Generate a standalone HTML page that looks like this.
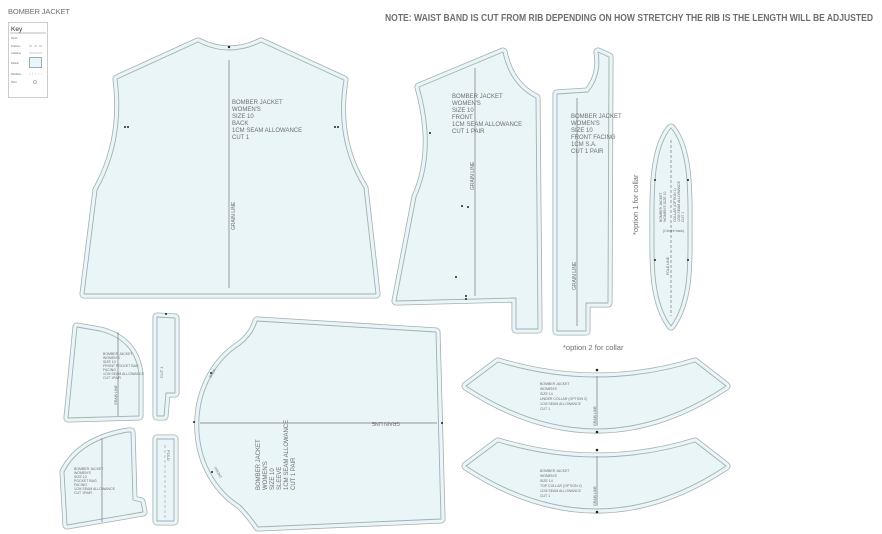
<!DOCTYPE html>
<html><head><meta charset="utf-8"><style>
html,body{margin:0;padding:0;background:#fff;}
svg{display:block;}
.t{font-family:"Liberation Sans",sans-serif;fill:#6f6f6f;}
</style></head><body>
<svg width="882" height="534" viewBox="0 0 882 534" xmlns="http://www.w3.org/2000/svg">
<defs>
<path id="back" d="M117,79 L198,42 Q229,58 261,42 L344,80 Q334,140 364,188 L376,294 L84,294 L97,190 Q125,140 117,79 Z"/>
<path id="front" d="M419,87 L503,52 Q510,85 536,98 L538,329 L516,329 L516,298 L396,301 L416,197 Q437,150 419,87 Z"/>
<path id="facing" d="M557,94 L588,92 Q602,75 598,52 L609,57 L608,303 L586,303 L586,331 L557,331 Z"/>
<path id="col1" d="M671,128 C690,150 688,200 688,228 C688,260 690,300 671,326 C652,300 654,260 654,228 C654,200 652,150 671,128Z"/>
<path id="col2" d="M466,386 L498,362 Q597,392 695,362 L726,386 Q597,472 466,386 Z"/>
<path id="col3" d="M466,466 L498,442 Q597,472 695,442 L726,466 Q597,552 466,466 Z"/>
<path id="pk1" d="M77,327 L100,331 Q135,340 139,374 L139,416 L68,418 Z"/>
<path id="st1" d="M157,317 L175,318 L175,393 L166,393 L164,416 L157,416 Z"/>
<path id="slv" d="M257,321 L436,332 L441,519 L258,527 Q250,515 240,505 C185,470 185,380 240,345 Q253,335 257,321Z"/>
<path id="pk2" d="M64,472 Q80,440 128,432 L131,432 L133,500 L141,502 L143,512 L67,525 Z"/>
<path id="st2" d="M157,439 L174,439 L174,521 L157,521 Z"/>
</defs>
<g stroke-linejoin="round">
<g fill="#e9f5f7" stroke="#a3b0b4" stroke-width="9">
<use href="#back"/><use href="#front"/><use href="#facing"/><use href="#col1"/><use href="#col2"/><use href="#col3"/><use href="#pk1"/><use href="#st1"/><use href="#slv"/><use href="#pk2"/><use href="#st2"/>
</g>
<g fill="none" stroke="#e9f5f7" stroke-width="7.4">
<use href="#back"/><use href="#front"/><use href="#facing"/><use href="#col1"/><use href="#col2"/><use href="#col3"/><use href="#pk1"/><use href="#st1"/><use href="#slv"/><use href="#pk2"/><use href="#st2"/>
</g>
<g fill="#e9f5f7" stroke="#a3b0b4" stroke-width="0.9">
<use href="#back"/><use href="#front"/><use href="#facing"/><use href="#col1"/><use href="#col2"/><use href="#col3"/><use href="#pk1"/><use href="#st1"/><use href="#slv"/><use href="#pk2"/><use href="#st2"/>
</g>
</g>
<g stroke="#777" stroke-width="0.7">
<line x1="229" y1="60" x2="229" y2="288"/>
<line x1="475" y1="68" x2="475" y2="296"/>
<line x1="577" y1="98" x2="577" y2="326"/>
<line x1="671" y1="140" x2="671" y2="316" stroke-dasharray="3,2"/>
<line x1="118" y1="332" x2="118" y2="416"/>
<line x1="102" y1="438" x2="102" y2="522"/>
<line x1="200" y1="423" x2="437" y2="423"/>
<line x1="597" y1="376" x2="597" y2="426"/>
<line x1="597" y1="456" x2="597" y2="506"/>
<line x1="165" y1="445" x2="165" y2="518" stroke="#aaa" stroke-dasharray="3,2"/>
</g>
<g fill="#222">
<circle cx="229" cy="47" r="1.2"/><circle cx="125" cy="127" r="1"/><circle cx="128" cy="127" r="1"/><circle cx="335" cy="127" r="1"/><circle cx="338" cy="127" r="1"/>
<circle cx="430" cy="133" r="1"/><circle cx="462" cy="206" r="1"/><circle cx="468" cy="207" r="1"/><circle cx="456" cy="277" r="1"/><circle cx="466" cy="299" r="1"/><circle cx="466" cy="296" r="1"/>
<circle cx="597" cy="370" r="1.3"/><circle cx="597" cy="432" r="1.3"/><circle cx="597" cy="450" r="1.3"/><circle cx="597" cy="512" r="1.3"/>
<circle cx="655" cy="180" r="1"/><circle cx="688" cy="180" r="1"/><circle cx="655" cy="260" r="1"/><circle cx="688" cy="260" r="1"/>
<circle cx="166" cy="314" r="1"/><circle cx="194" cy="422" r="1"/><circle cx="442" cy="423" r="1"/><circle cx="211" cy="373" r="1"/><circle cx="212" cy="472" r="1"/>
</g>
<text class="t" x="8" y="14" font-size="7.5" textLength="62">BOMBER JACKET</text>
<text class="t" x="385" y="21" font-size="10.5" font-weight="bold" textLength="488" lengthAdjust="spacingAndGlyphs">NOTE: WAIST BAND IS CUT FROM RIB DEPENDING ON HOW STRETCHY THE RIB IS THE LENGTH WILL BE ADJUSTED</text>
<rect x="8.5" y="22.5" width="39" height="75" fill="#fff" stroke="#ccc"/>
<line x1="10" y1="33" x2="46" y2="33" stroke="#bbb"/>
<text x="11" y="31" font-size="6.5" font-family="Liberation Sans,sans-serif" fill="#333">Key</text>
<g fill="#666" font-size="2.5" font-family="Liberation Sans,sans-serif">
<text x="11" y="39">Notch</text><text x="11" y="47">Fold line</text><text x="11" y="54">Grainline</text><text x="11" y="64">Pattern</text><text x="11" y="75">Stitchline</text><text x="11" y="83">Point</text>
</g>
<rect x="29.5" y="57.5" width="12" height="10" fill="#e9f5f7" stroke="#9ab"/>
<line x1="29" y1="46" x2="42" y2="46" stroke="#bbb" stroke-dasharray="3,2"/>
<line x1="29" y1="53" x2="42" y2="53" stroke="#ccc"/>
<line x1="29" y1="74" x2="42" y2="74" stroke="#ccc" stroke-dasharray="1,2"/>
<circle cx="35" cy="82" r="1.5" fill="none" stroke="#bbb"/>
<g class="t" font-size="6">
<text x="232" y="104">BOMBER JACKET</text><text x="232" y="111">WOMEN'S</text><text x="232" y="118">SIZE 10</text><text x="232" y="125">BACK</text><text x="232" y="132">1CM SEAM ALLOWANCE</text><text x="232" y="139">CUT 1</text>
<text x="452" y="98">BOMBER JACKET</text><text x="452" y="105">WOMEN'S</text><text x="452" y="112">SIZE 10</text><text x="452" y="119">FRONT</text><text x="452" y="126">1CM SEAM ALLOWANCE</text><text x="452" y="133">CUT 1 PAIR</text>
<text x="571" y="118">BOMBER JACKET</text><text x="571" y="125">WOMEN'S</text><text x="571" y="132">SIZE 10</text><text x="571" y="139">FRONT FACING</text><text x="571" y="146">1CM S.A.</text><text x="571" y="153">CUT 1 PAIR</text>
<text transform="translate(235,230) rotate(-90)" font-size="5">GRAIN LINE</text>
<text transform="translate(474,190) rotate(-90)" font-size="5">GRAIN LINE</text>
<text transform="translate(576,290) rotate(-90)" font-size="5">GRAIN LINE</text>
<text transform="translate(638,235) rotate(-90)" font-size="7.5">*option 1 for collar</text>
<text x="563" y="350" font-size="7.5">*option 2 for collar</text>
</g>
<g class="t" font-size="3.5">
<text x="540" y="385">BOMBER JACKET</text><text x="540" y="390">WOMEN'S</text><text x="540" y="395">SIZE 14</text><text x="540" y="400">UNDER COLLAR (OPTION 2)</text><text x="540" y="405">1CM SEAM ALLOWANCE</text><text x="540" y="410">CUT 1</text>
<text x="540" y="472">BOMBER JACKET</text><text x="540" y="477">WOMEN'S</text><text x="540" y="482">SIZE 14</text><text x="540" y="487">TOP COLLAR (OPTION 2)</text><text x="540" y="492">1CM SEAM ALLOWANCE</text><text x="540" y="497">CUT 1</text>
<text x="103" y="355">BOMBER JACKET</text><text x="103" y="359">WOMEN'S</text><text x="103" y="363">SIZE 10</text><text x="103" y="367">FRONT POCKET BAG</text><text x="103" y="371">FACING</text><text x="103" y="375">1CM SEAM ALLOWANCE</text><text x="103" y="379">CUT 1PAIR</text>
<text x="74" y="470">BOMBER JACKET</text><text x="74" y="474">WOMEN'S</text><text x="74" y="478">SIZE 10</text><text x="74" y="482">POCKET BAG</text><text x="74" y="486">FACING</text><text x="74" y="490">1CM SEAM ALLOWANCE</text><text x="74" y="494">CUT 1PAIR</text>
<text transform="translate(117,405) rotate(-90)">GRAIN LINE</text>
<text transform="translate(596,426) rotate(-90)">GRAIN LINE</text>
<text transform="translate(596,506) rotate(-90)">GRAIN LINE</text>
<text transform="translate(662,222) rotate(-90)">BOMBER JACKET</text>
<text transform="translate(666,222) rotate(-90)">WOMEN'S  SIZE 10</text>
<text transform="translate(676,222) rotate(-90)">COLLAR (OPTION 1)</text>
<text transform="translate(680,222) rotate(-90)">1CM SEAM ALLOWANCE</text>
<text transform="translate(684,222) rotate(-90)">CUT 1</text>
<text transform="translate(663,232)">(Centre back)</text>
<text transform="translate(669,275) rotate(-90)">FOLD LINE</text>
<text transform="translate(163,378) rotate(-90)" font-size="4">CUT 1</text>
<text transform="translate(167,450) rotate(90)" font-size="4">FOLD</text>
<text transform="translate(211,378) rotate(-60)">BACK</text>
<text transform="translate(214,468) rotate(60)">FRONT</text>
</g>
<g class="t" font-size="6">
<text transform="translate(260,490) rotate(-90)">BOMBER JACKET</text>
<text transform="translate(267,490) rotate(-90)">WOMEN'S</text>
<text transform="translate(274,490) rotate(-90)">SIZE 10</text>
<text transform="translate(281,490) rotate(-90)">SLEEVE</text>
<text transform="translate(288,490) rotate(-90)">1CM SEAM ALLOWANCE</text>
<text transform="translate(295,490) rotate(-90)">CUT 1 PAIR</text>
<text transform="translate(400,422) rotate(180)" font-size="5">GRAIN LINE</text>
</g>
</svg>
</body></html>
